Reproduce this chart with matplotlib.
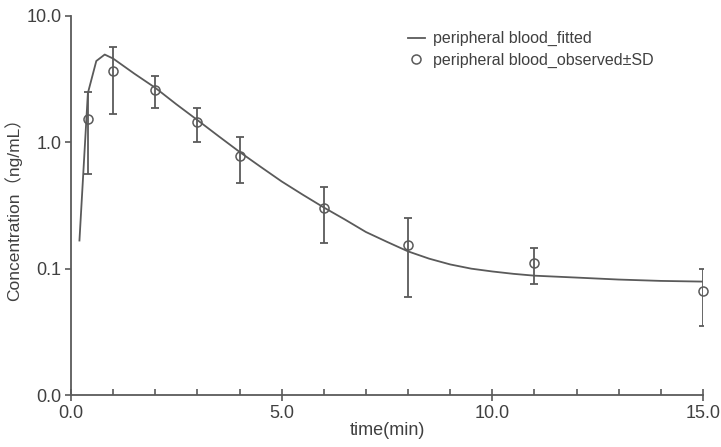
import numpy as np
import matplotlib.pyplot as plt
from matplotlib.ticker import FixedLocator, NullLocator, MultipleLocator

# Fitted curve (peripheral blood)
fit_time = [0.2, 0.4, 0.6, 0.8, 1.0, 1.5, 2.0, 2.5, 3.0, 3.5, 4.0, 4.5, 5.0,
            5.5, 6.0, 6.5, 7.0, 7.5, 8.0, 8.5, 9.0, 9.5, 10.0, 10.5, 11.0,
            12.0, 13.0, 14.0, 15.0]
fit_conc = [0.167, 2.45, 4.4, 4.95, 4.6, 3.5, 2.7, 2.0, 1.5, 1.12, 0.84, 0.64,
            0.49, 0.385, 0.305, 0.245, 0.195, 0.163, 0.137, 0.12, 0.108, 0.10,
            0.095, 0.091, 0.088, 0.085, 0.082, 0.080, 0.079]

# Observed mean +- SD
obs_time = [0.4, 1.0, 2.0, 3.0, 4.0, 6.0, 8.0, 11.0, 15.0]
obs_conc = [1.53, 3.68, 2.59, 1.44, 0.784, 0.301, 0.155, 0.110, 0.067]
obs_sd = [0.97, 2.0, 0.73, 0.44, 0.31, 0.14, 0.095, 0.035, 0.032]

grey = "#5a5a5a"
text_col = "#404040"
plt.rcParams["font.family"] = ["Liberation Sans", "Noto Sans CJK SC", "DejaVu Sans"]

fig = plt.figure(figsize=(7.21, 4.47), dpi=100)
ax = fig.add_axes([0.0985, 0.1163, 0.8765, 0.848])

ax.plot(fit_time, fit_conc, color=grey, lw=1.3, label="peripheral blood_fitted")
ax.errorbar(obs_time, obs_conc, yerr=obs_sd, fmt="none", ecolor=grey,
            elinewidth=1.3, capsize=3, capthick=1.3)
ax.plot(obs_time, obs_conc, "o", ms=6.5, mfc="none", mec=grey, mew=1.1,
        ls="none", clip_on=False, label="peripheral blood_observed\u00b1SD")

ax.set_yscale("log")
ax.set_ylim(0.01, 10)
ax.set_xlim(0, 15)
ax.yaxis.set_major_locator(FixedLocator([0.01, 0.1, 1, 10]))
ax.set_yticklabels(["0.0", "0.1", "1.0", "10.0"])
ax.yaxis.set_minor_locator(NullLocator())
ax.xaxis.set_minor_locator(MultipleLocator(1))
ax.set_xticks([0, 5, 10, 15], ["0.0", "5.0", "10.0", "15.0"])

for side in ["top", "right"]:
    ax.spines[side].set_visible(False)
for side in ["left", "bottom"]:
    ax.spines[side].set_color(grey)
    ax.spines[side].set_linewidth(1.3)

ax.tick_params(axis="y", which="major", direction="out", length=4, width=1.2,
               colors=grey, labelcolor=text_col, labelsize=13, pad=3)
ax.tick_params(axis="x", which="major", direction="inout", length=8, width=1.2,
               colors=grey, labelcolor=text_col, labelsize=13, pad=3)
ax.tick_params(axis="x", which="minor", direction="in", length=4, width=1.2,
               colors=grey)

ax.set_xlabel("time(min)", color=text_col, fontsize=13, labelpad=0)
ax.set_ylabel("Concentration\uff08ng/mL\uff09", color=text_col, fontsize=12.5,
              labelpad=3)

leg = ax.legend(loc="upper right", bbox_to_anchor=(0.945, 0.998), frameon=False,
                fontsize=11.5, handlelength=1.1, handletextpad=0.5,
                labelspacing=0.4)
for t in leg.get_texts():
    t.set_color(text_col)

fig.savefig("out.png", dpi=100)
